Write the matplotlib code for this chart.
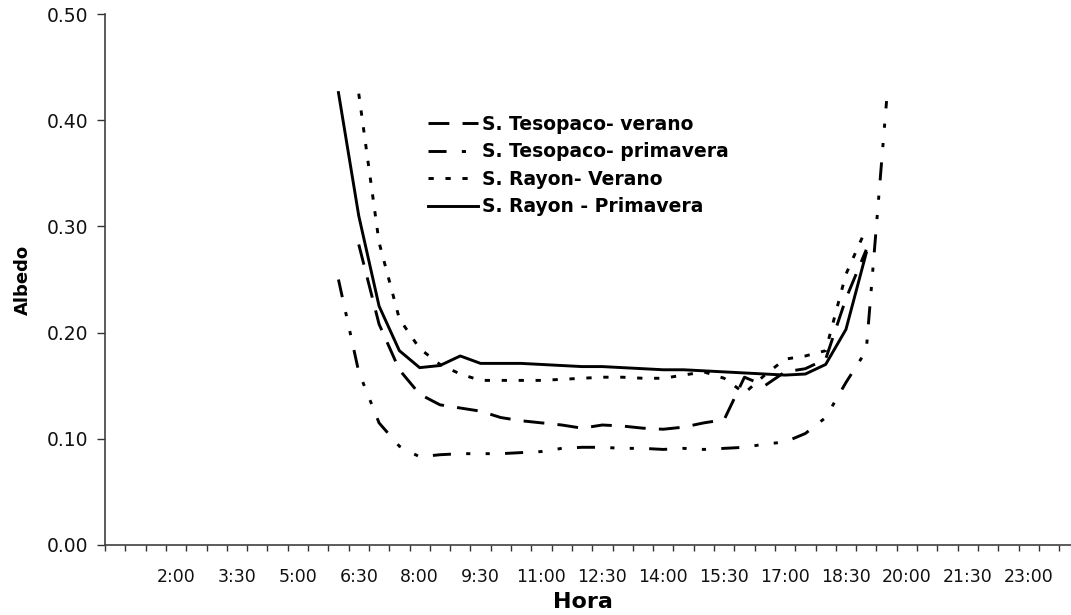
import numpy as np
import matplotlib.pyplot as plt

plt.rcParams['lines.scale_dashes'] = False

# horas de medición (cada 30 min)
horas = ['6:00', '6:30', '7:00', '7:30', '8:00', '8:30', '9:00', '9:30',
         '10:00', '10:30', '11:00', '11:30', '12:00', '12:30', '13:00', '13:30',
         '14:00', '14:30', '15:00', '15:30', '16:00', '16:30', '17:00', '17:30',
         '18:00', '18:30', '19:00', '19:30']

tesopaco_verano = [None, 0.283, 0.208, 0.165, 0.142, 0.132, 0.129, 0.126,
                   0.120, 0.117, 0.115, 0.113, 0.110, 0.113, 0.112, 0.110,
                   0.109, 0.111, 0.115, 0.118, 0.158, 0.150, 0.163, 0.166,
                   0.175, 0.232, 0.278, None]
tesopaco_primavera = [0.250, 0.163, 0.115, 0.093, 0.083, 0.085, 0.086, 0.086,
                      0.086, 0.087, 0.088, 0.091, 0.092, 0.092, 0.091, 0.091,
                      0.090, 0.091, 0.090, 0.091, 0.092, 0.095, 0.097, 0.105,
                      0.120, 0.153, 0.183, 0.418]
rayon_verano = [None, 0.425, 0.285, 0.213, 0.185, 0.170, 0.161, 0.155,
                0.155, 0.155, 0.155, 0.156, 0.157, 0.158, 0.158, 0.157,
                0.157, 0.160, 0.163, 0.157, 0.143, 0.160, 0.175, 0.178,
                0.183, 0.255, 0.298, None]
rayon_primavera = [0.426, 0.310, 0.225, 0.183, 0.167, 0.169, 0.178, 0.171,
                   0.171, 0.171, 0.170, 0.169, 0.168, 0.168, 0.167, 0.166,
                   0.165, 0.165, 0.164, 0.163, 0.162, 0.161, 0.160, 0.161,
                   0.170, 0.203, 0.275, None]

etiquetas = ['2:00', '3:30', '5:00', '6:30', '8:00', '9:30', '11:00', '12:30',
             '14:00', '15:30', '17:00', '18:30', '20:00', '21:30', '23:00']


def a_horas(t):
    h, m = t.split(':')
    return int(h) + int(m) / 60.0


x = [a_horas(t) for t in horas]

fig = plt.figure(figsize=(10.71, 6.15), dpi=100)
ax = fig.add_axes([105 / 1071, 70 / 615, 966 / 1071, 531 / 615])

lw = 2.1
ax.plot(x, np.array(tesopaco_verano, dtype=float), color='k', lw=lw,
        dashes=(15, 9.5), label='S. Tesopaco- verano')
ax.plot(x, np.array(tesopaco_primavera, dtype=float), color='k', lw=lw,
        dashes=(13, 11, 3, 11, 3, 11), label='S. Tesopaco- primavera')
ax.plot(x, np.array(rayon_verano, dtype=float), color='k', lw=lw,
        dashes=(3.8, 8.4), label='S. Rayon- Verano')
ax.plot(x, np.array(rayon_primavera, dtype=float), color='k', lw=lw,
        label='S. Rayon - Primavera')

ax.set_xlim(0.25, 0.25 + 966 / 40.6)
ax.set_ylim(0, 0.5)

# eje x: marcas cada media hora, etiquetas cada hora y media
ax.set_xticks([a_horas(t) for t in etiquetas], etiquetas)
ax.set_xticks(np.arange(0.25, 24.0, 0.5), minor=True)
ax.tick_params(axis='x', which='major', length=0, pad=16.5, labelsize=12.5,
               labelcolor='#111111')
ax.tick_params(axis='x', which='minor', length=4.3, width=1.0,
               direction='out', color='#333333')

ax.set_yticks([0.0, 0.1, 0.2, 0.3, 0.4, 0.5])
ax.set_yticklabels(['%.2f' % v for v in [0.0, 0.1, 0.2, 0.3, 0.4, 0.5]])
ax.tick_params(axis='y', length=5.8, width=1.0, pad=6.5, labelsize=13.5,
               direction='out', color='#333333', labelcolor='#111111')

for s in ['top', 'right']:
    ax.spines[s].set_visible(False)
for s in ['left', 'bottom']:
    ax.spines[s].set_color('#404040')
    ax.spines[s].set_linewidth(1.2)

ax.set_xlabel('Hora', fontsize=16, fontweight='bold', labelpad=5)
ax.xaxis.set_label_coords((583 - 105) / 966, -0.088)
ax.set_ylabel('Albedo', fontsize=13, fontweight='bold', labelpad=10)

ax.legend(loc='upper left', bbox_to_anchor=(428 / 1071, 1 - 115 / 615),
          bbox_transform=fig.transFigure, frameon=False, handlelength=2.67,
          handletextpad=0.21, labelspacing=0.45, borderpad=0,
          borderaxespad=0, prop={'weight': 'bold', 'size': 13.5})

fig.savefig('out.png', dpi=100)
